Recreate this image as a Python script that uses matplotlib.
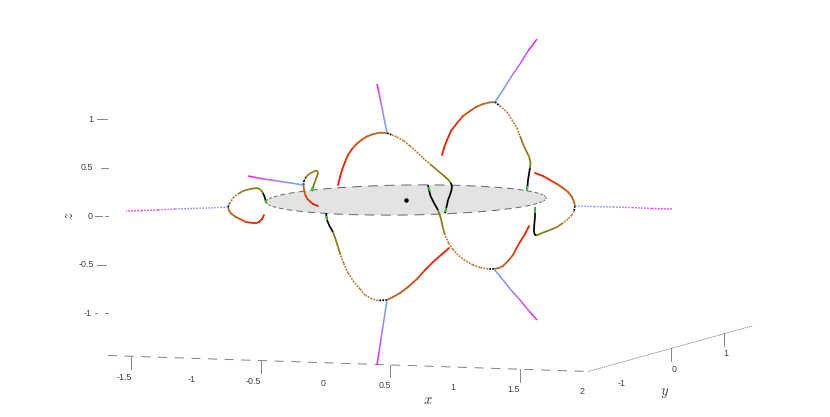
import numpy as np
import matplotlib
matplotlib.use('Agg')
from matplotlib import pyplot as plt
from matplotlib.collections import LineCollection
from matplotlib.colors import LinearSegmentedColormap
from matplotlib.patches import Ellipse

plt.rcParams['mathtext.fontset'] = 'cm'

# everything was read off the picture, so the values are in picture units
# each loop: arc = red part ending in the cusp, tail = from the cusp to the disc, spike = from the cusp outwards
arc_a = [(264, 215), (262, 219), (259, 222), (256, 223), (253, 223), (246, 222), (240, 219), (235, 216.5), (231, 213.5), (229, 210.5), (228, 207)]
tail_a = [(228, 207), (229.5, 203.5), (233, 198), (238, 194), (243, 191), (250, 189), (257, 188), (260.5, 189.5), (263, 193), (265, 198), (266, 203)]
spike_a = [(228, 207), (210, 208), (192, 208.5), (175, 209), (158, 210), (142, 210.5), (126, 211)]

arc_b = [(318, 206), (313, 204), (310, 201.5), (307.5, 199), (305.5, 195.5), (304, 190), (303.5, 185)]
tail_b = [(303.5, 185), (304, 181), (306, 177), (309, 174), (313, 172), (316, 170.5), (318, 171.5), (317.5, 175), (316, 179), (314.5, 183), (313, 187), (311.5, 191)]
spike_b = [(303.5, 185), (294, 183.5), (284, 182), (274, 180.5), (264, 179), (256, 177.5), (248, 176)]

arc_c = [(338, 185), (340, 177), (342, 170), (345, 162), (348, 155), (352, 149), (357, 143.5), (362, 139.5), (367, 136.5), (372, 134.5), (378, 133), (382, 132.7), (387, 133)]
tail_c = [(387, 133), (392, 135), (397, 137), (404, 141), (410, 146), (417, 152), (423, 158), (430, 164), (437, 170), (443, 175), (448, 179.5), (450.5, 182.5), (452, 186), (451.5, 190), (450, 195), (448, 200), (447, 205), (446, 209), (445, 213)]
spike_c = [(387, 133), (385, 123), (383, 113), (381, 103), (379, 93), (377, 84)]

arc_d = [(442, 155), (444, 148), (447, 140), (451, 131), (457, 123), (463, 116), (470, 111), (476, 107), (483, 104), (489, 102.5), (495, 102)]
tail_d = [(495, 102), (500, 106), (507, 112), (512, 120), (517, 128), (520, 136), (523, 144), (526, 150.5), (529, 156.5), (530.5, 162), (530, 168), (529, 174), (528, 180), (527.5, 186), (527, 191)]
spike_d = [(495, 102), (503, 90), (511, 77), (520, 64), (528, 51), (537, 39)]

arc_e = [(535, 173), (543, 176), (550, 180), (557, 184), (563, 188), (568, 192), (572, 197), (574, 202), (575, 206)]
tail_e = [(575, 206), (574, 211), (572, 215), (568, 219), (563, 223), (557, 227), (550, 230), (542, 233), (536.5, 235.5), (535, 235), (534, 232), (534, 228), (534.5, 222), (535, 217), (535, 212), (535, 207)]
spike_e = [(575, 206), (594, 206.5), (613, 207), (632, 207.5), (652, 208.5), (673, 209)]

arc_f = [(529, 226), (525, 234), (520, 242), (516, 249), (513, 255), (508, 261), (503, 266), (499, 268), (494, 269)]
tail_f = [(494, 269), (488, 269), (480, 267.5), (473, 265), (465, 260.5), (458, 255), (453, 249.5), (448.5, 243), (445, 235), (443, 228), (441, 219), (438, 210), (434, 203), (430.5, 196), (429, 190), (428, 185)]
spike_f = [(494, 269), (503, 280), (511, 290), (520, 300), (529, 311), (537, 320)]

arc_g = [(449, 248), (441, 255), (433, 262), (425, 270), (417, 279), (408, 287), (400, 293), (393, 297), (387, 300)]
tail_g = [(387, 300), (378, 300.5), (372, 299), (365, 295), (360, 289), (354, 282), (348, 273), (343.5, 263), (340.5, 255), (338, 247), (335.5, 239), (333, 232), (329.5, 226), (327, 220), (326, 213)]
spike_g = [(387, 300), (385, 313), (383, 326), (381, 339), (379, 352), (377, 365)]

# px of black at the disc end of each tail
black_len = [8, 6, 30, 25, 30, 25, 18]
loops = list(zip([arc_a, arc_b, arc_c, arc_d, arc_e, arc_f, arc_g],
                 [tail_a, tail_b, tail_c, tail_d, tail_e, tail_f, tail_g],
                 [spike_a, spike_b, spike_c, spike_d, spike_e, spike_f, spike_g],
                 black_len))
# short green bits just where the tails reach the disc
green_bits = [[(265.5, 200), (266, 203)], [(313, 187), (311.5, 191)], [(446, 208), (445.5, 212)],
              [(527.5, 186), (527, 191)], [(535, 213), (535, 207)], [(428.5, 187), (430, 191)],
              [(326, 216), (327, 220)]]

disc_center = (406, 200)
disc_a = 140
disc_b = 15
disc_tilt = -0.8

z_ticks = [119, 167.7, 216, 264.5, 313]
z_tick_labels = ['1', '0.5', '0', '-0.5', '-1']
z_label_x = [91, 87, 90, 86, 88]

x_axis = [(108, 355.5), (588, 371.5)]
y_axis = [(588, 371.5), (752, 326)]
x_tick_pos = [(131, 357, 369), (261, 361, 373), (390, 365, 377), (520, 369, 382)]
y_tick_pos = [(671, 348, 361), (724, 333, 346)]
x_tick_labels = ['-1.5', '-1', '-0.5', '0', '0.5', '1', '1.5', '2']
x_label_at = [(124, 378), (192, 380), (253, 382), (323, 384), (385, 386), (453, 388), (514, 389), (582, 392)]
y_tick_labels = ['-1', '0', '1']
y_label_at = [(622, 384), (674, 369), (726, 354)]

arc_cmap = LinearSegmentedColormap.from_list('arc', ['#ff1200', '#f02a00', '#cc5510', '#b8702c'])
spike_cmap = LinearSegmentedColormap.from_list('spike', ['#5fa8ff', '#8f8cff', '#c455ff', '#ff10f0'])
grey = '#707070'


def arclen(pts):
    p = np.array(pts, dtype=float)
    return np.r_[0, np.cumsum(np.hypot(*np.diff(p, axis=0).T))]


def segs(pts):
    p = np.array(pts, dtype=float)
    return np.stack([p[:-1], p[1:]], axis=1)


def tail_colour(d_start, d_end, black):
    # d_start from the cusp, d_end from the disc
    if d_end < black or d_start < 7:
        return '#000000'
    t = min((d_end - black) / 45.0, 1.0)
    olive = np.array([0.42, 0.50, 0.0])
    brown = np.array([0.74, 0.48, 0.20])
    return tuple(olive + (brown - olive) * t)


fig = plt.figure(figsize=(8.3, 4.17), dpi=100)
ax = fig.add_axes([0, 0, 1, 1])
ax.set_xlim(0, 830)
ax.set_ylim(417, 0)
ax.axis('off')

# 圆盘
ax.add_patch(Ellipse(disc_center, 2 * disc_a, 2 * disc_b, angle=disc_tilt, facecolor='#e3e3e3', edgecolor='none', zorder=1))
# the outline is dashed in 3D, so dashes go by equal angle and get short at the tips
tilt = np.deg2rad(disc_tilt)
for t0 in np.arange(0, 2 * np.pi, 0.12):
    t = np.array([t0, t0 + 0.024, t0 + 0.048, t0 + 0.072])
    ex = disc_a * np.cos(t)
    ey = disc_b * np.sin(t)
    ax.plot(disc_center[0] + ex * np.cos(tilt) - ey * np.sin(tilt),
            disc_center[1] + ex * np.sin(tilt) + ey * np.cos(tilt),
            color='#666666', lw=0.7, zorder=1.5, solid_capstyle='butt')
ax.plot(*disc_center, 'o', color='k', ms=2.2, zorder=5)

# 轴
ax.plot(*zip(*x_axis), color=grey, lw=0.6, linestyle=(0, (11, 9)))
ax.plot(*zip(*y_axis), color=grey, lw=0.5, linestyle=(0, (2, 1)))
for x, y0, y1 in x_tick_pos + y_tick_pos:
    ax.plot([x, x], [y0, y1], color=grey, lw=0.6)
# z ticks are broken up in the reference
ax.plot([97, 107], [z_ticks[0]] * 2, color=grey, lw=0.6)
ax.plot([101, 108], [z_ticks[1]] * 2, color=grey, lw=0.6)
ax.plot([95, 102], [z_ticks[2]] * 2, color=grey, lw=0.6)
ax.plot([105, 108], [z_ticks[2]] * 2, color=grey, lw=0.6)
ax.plot([97, 106], [z_ticks[3]] * 2, color=grey, lw=0.6)
ax.plot([95, 97], [z_ticks[4]] * 2, color=grey, lw=0.6)
ax.plot([105, 108], [z_ticks[4]] * 2, color=grey, lw=0.6)

font = {'family': 'Liberation Sans', 'fontsize': 6.4, 'color': '#404040', 'ha': 'center', 'va': 'center'}
for y, t, x in zip(z_ticks, z_tick_labels, z_label_x):
    ax.text(x, y, t, **font)
for (x, y), t in zip(x_label_at, x_tick_labels):
    ax.text(x, y, t, **font)
for (x, y), t in zip(y_label_at, y_tick_labels):
    ax.text(x, y, t, **font)
lab = {'fontsize': 10.5, 'color': '#404040', 'ha': 'center', 'va': 'center'}
ax.text(428, 399, '$x$', **lab)
ax.text(665, 392, '$y$', **lab)
ax.text(68, 216, '$z$', rotation=90, **lab)

# 曲线
for arc, tail, spike, black in loops:
    s = arclen(arc)
    mid = (s[:-1] + s[1:]) / 2 / s[-1]
    ax.add_collection(LineCollection(segs(arc), colors=arc_cmap(mid), linewidths=1.3, capstyle='round', zorder=3))

    s = arclen(tail)
    mid = (s[:-1] + s[1:]) / 2
    cols = [tail_colour(m, s[-1] - m, black) for m in mid]
    # dotted close to the cusp, solid nearer the disc
    styles = [(0, (1, 0.7)) if s[-1] - m > black + 30 else 'solid' for m in mid]
    ax.add_collection(LineCollection(segs(tail), colors=cols, linewidths=1.25, linestyles=styles, zorder=3))

    s = arclen(spike)
    mid = (s[:-1] + s[1:]) / 2 / s[-1]
    horiz = abs(spike[-1][0] - spike[0][0]) > 60
    ax.add_collection(LineCollection(segs(spike), colors=spike_cmap(mid), linewidths=1.1,
                                     linestyles=(0, (1, 1)) if horiz else 'solid', zorder=3))

ax.add_collection(LineCollection(green_bits, colors='#38d020', linewidths=1.25, zorder=4))

fig.savefig('out.png', dpi=100)
